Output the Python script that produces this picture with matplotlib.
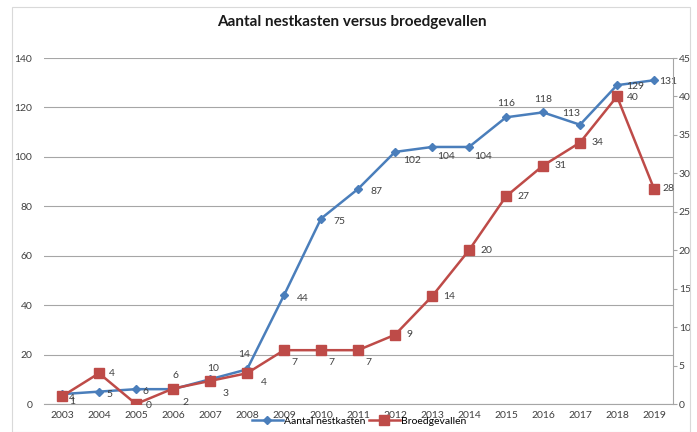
import matplotlib.pyplot as plt
from matplotlib.patches import Rectangle

years = ['2003', '2004', '2005', '2006', '2007', '2008', '2009', '2010', '2011',
         '2012', '2013', '2014', '2015', '2016', '2017', '2018', '2019']
nestkasten = [4, 5, 6, 6, 10, 14, 44, 75, 87, 102, 104, 104, 116, 118, 113, 129, 131]
broedgevallen = [1, 4, 0, 2, 3, 4, 7, 7, 7, 9, 14, 20, 27, 31, 34, 40, 28]

# label offsets in points (dx, dy) and alignment
off_nest = [(5, -3), (5, -2), (5, -2), (2, 10), (2, 8), (-2, 11), (9, -2), (9, -2), (9, -2),
            (12, -6), (10, -7), (10, -7), (0, 10), (0, 9), (-6, 8), (13, -1), (10, -1)]
ha_nest = ['left', 'left', 'left', 'center', 'center', 'center', 'left', 'left', 'left',
           'center', 'center', 'center', 'center', 'center', 'center', 'center', 'center']
off_broed = [(5, -4), (7, 0), (7, -1), (7, -10), (9, -9), (10, -7), (5, -9), (5, -9), (5, -9),
             (8, 0), (8, 0), (8, 0), (8, 0), (8, 0), (8, 0), (7, -1), (6, 0)]

blue = '#4A7EBB'
red = '#BE4B48'

plt.rcParams['font.family'] = ['Lato', 'DejaVu Sans']

fig = plt.figure(figsize=(6.97, 4.32), dpi=100)
fig.patches.append(Rectangle((12/697, 0.0), 678/697, 1 - 7/432, transform=fig.transFigure,
                             fill=False, edgecolor='#D9D9D9', linewidth=0.8))
ax = fig.add_axes([43.5/697, 1 - 404/432, 629/697, 346/432])
ax2 = ax.twinx()

x = range(len(years))
l1, = ax.plot(x, nestkasten, color=blue, linewidth=1.8, marker='D', markersize=4,
              label='Aantal nestkasten')
l2, = ax2.plot(x, broedgevallen, color=red, linewidth=1.8, marker='s', markersize=6.5,
               label='Broedgevallen')

for i, v in enumerate(nestkasten):
    ax.annotate(str(v), (i, v), xytext=off_nest[i], textcoords='offset points',
                ha=ha_nest[i], va='center', fontsize=7.5, color='#404040')
for i, v in enumerate(broedgevallen):
    ax2.annotate(str(v), (i, v), xytext=off_broed[i], textcoords='offset points',
                 ha='center' if off_broed[i][0] < 5 else 'left', va='center',
                 fontsize=7.5, color='#404040')

ax.set_xlim(-0.5, len(years) - 0.5)
ax.set_ylim(0, 140)
ax.set_yticks(range(0, 141, 20))
ax2.set_ylim(0, 45)
ax2.set_yticks(range(0, 46, 5))
ax.set_xticks(list(x))
ax.set_xticklabels(years)
ax.grid(axis='y', color='#A6A6A6', linewidth=0.8)
ax.set_axisbelow(True)

for a in (ax, ax2):
    for s in ('top', 'left'):
        a.spines[s].set_visible(False)
    a.spines['bottom'].set_color('#A6A6A6')
    a.spines['right'].set_color('#A6A6A6')
ax.spines['right'].set_visible(False)
ax2.spines['bottom'].set_visible(False)

ax.tick_params(axis='y', length=0, labelsize=7.5, labelcolor='#404040', pad=8)
ax.tick_params(axis='x', length=0, labelsize=7.5, labelcolor='#404040', pad=5)
ax2.tick_params(axis='y', length=3, color='#A6A6A6', labelsize=7.5, labelcolor='#404040', pad=1.5)

fig.text(0.505, 1 - 22/432, 'Aantal nestkasten versus broedgevallen', ha='center', va='center',
         fontsize=11, fontweight='bold', color='#1a1a1a')

fig.legend(handles=[l1, l2], loc='center', bbox_to_anchor=(0.515, 1 - 421/432), ncol=2,
           frameon=False, fontsize=7.5, handlelength=3, columnspacing=0.3, handletextpad=0.1,
           borderpad=0)

fig.savefig('out.png', dpi=100)
